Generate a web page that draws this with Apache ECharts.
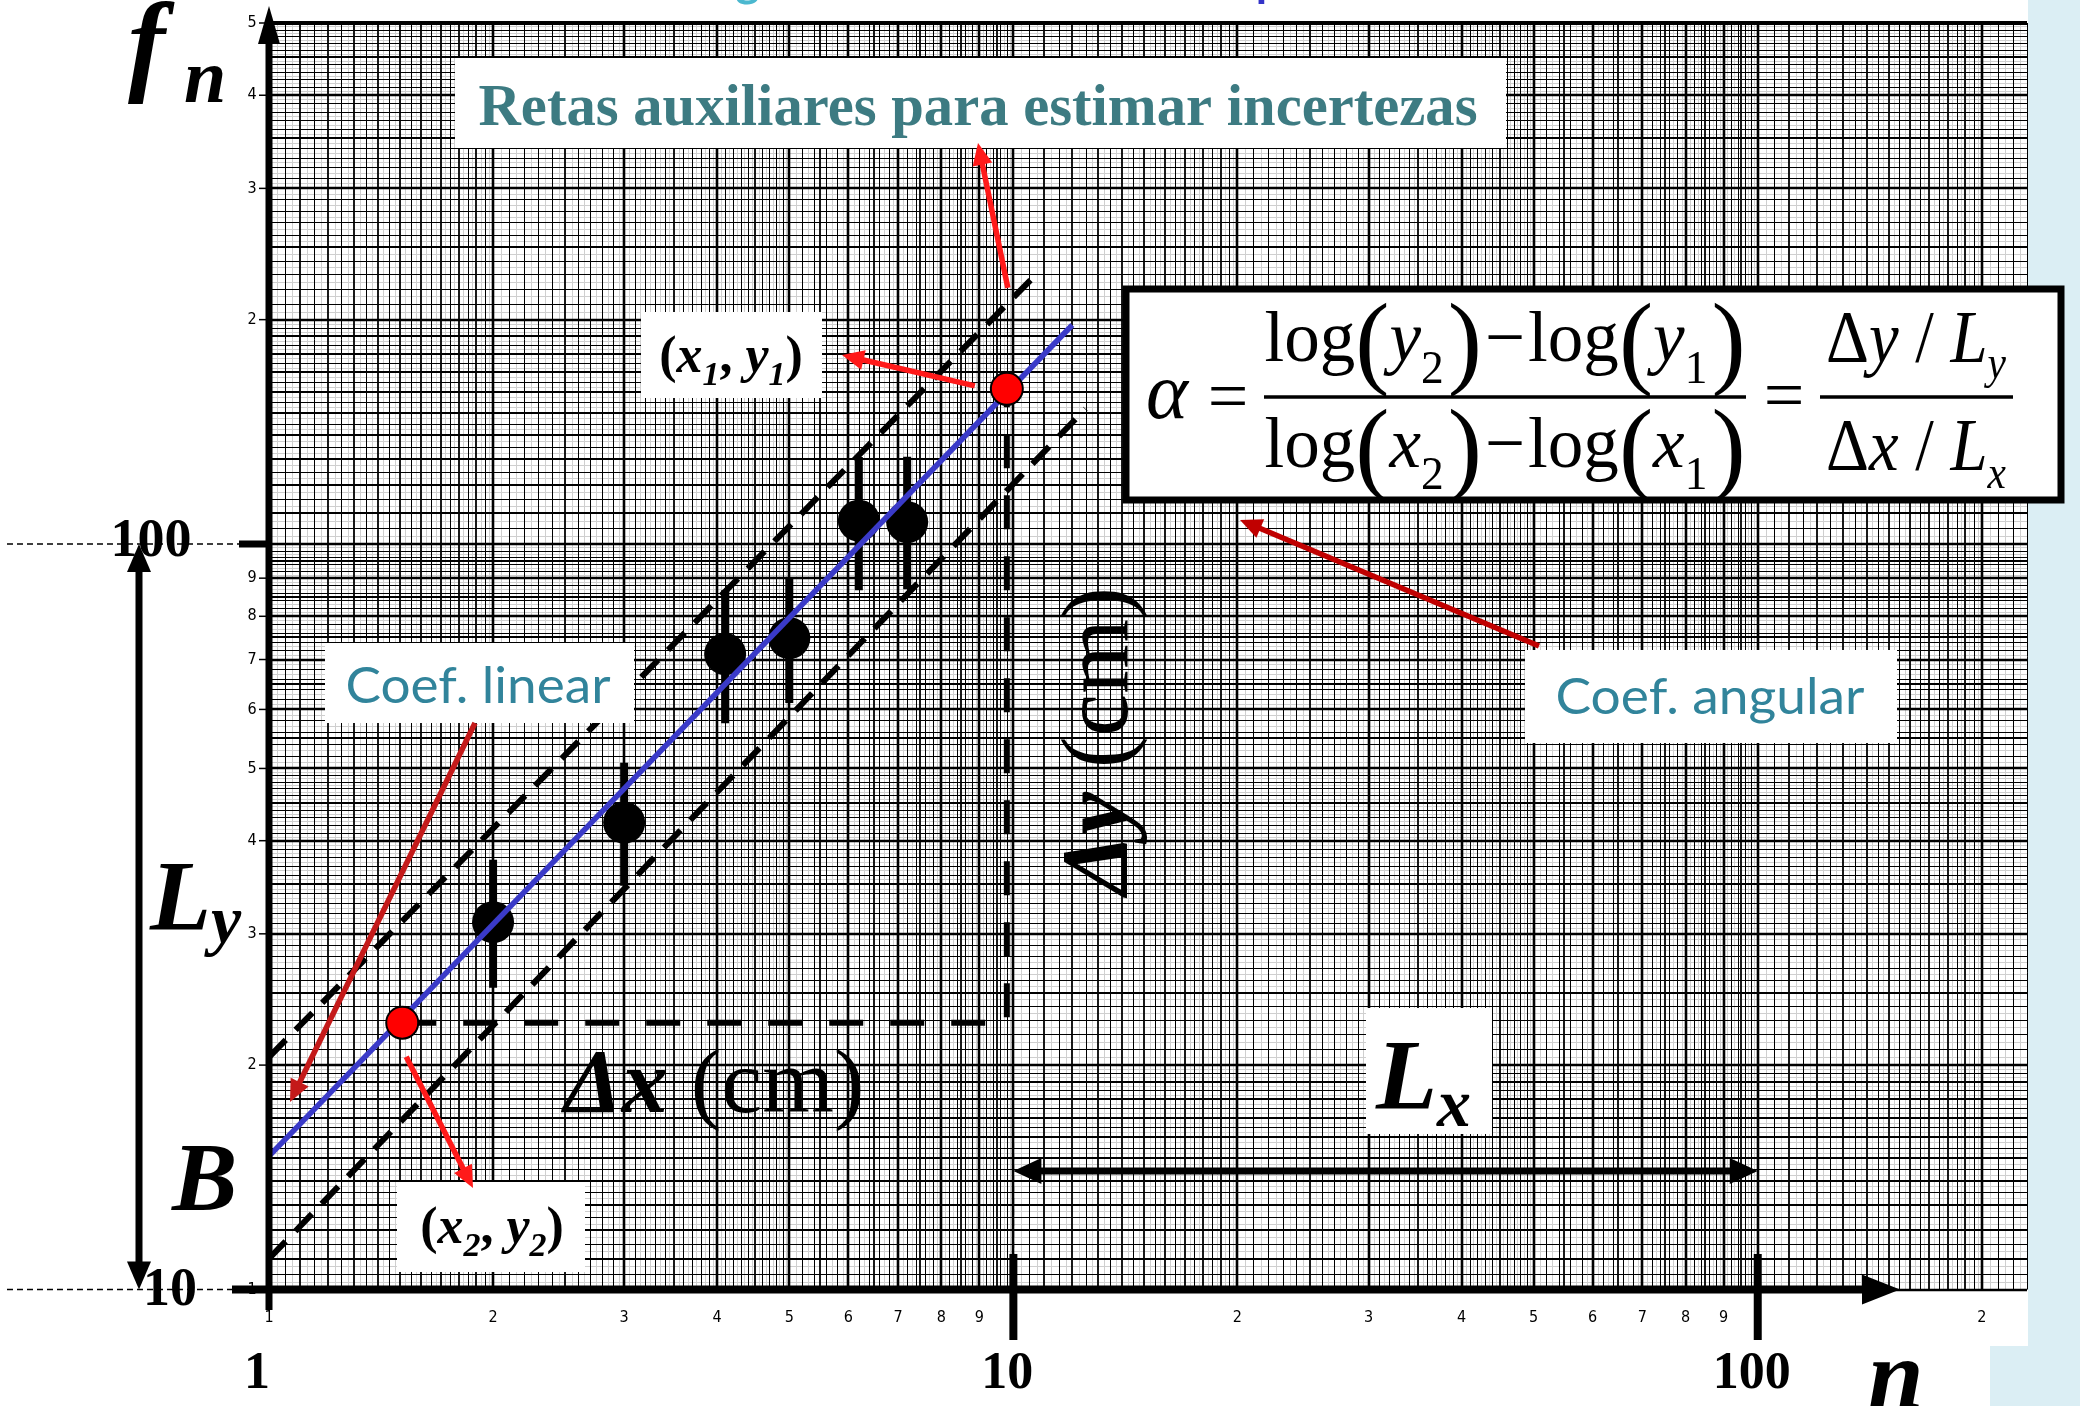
<!DOCTYPE html>
<html>
<head>
<meta charset="utf-8">
<script src="https://cdn.jsdelivr.net/npm/echarts@6/dist/echarts.min.js"></script>
<style>
  html, body { margin: 0; padding: 0; background: #ffffff; }
  #chart { width: 2080px; height: 1406px; }
</style>
</head>
<body>
<div id="chart"></div>
<script>
// ---- measured harmonics (n, f_n) with error bars ----
const nValues  = [2, 3, 4.1, 5, 6.2, 7.2];
const fnValues = [31.1, 42.3, 71.2, 74.8, 107.5, 107];
const fnLower  = [25.4, 34.8, 57.5, 61.2, 86.7, 87];
const fnUpper  = [37.7, 50.9, 86.7, 90.3, 130.8, 131];

// ---- best line and the two auxiliary lines (end points) ----
const fitN = [1, 12];      const fitF = [15.1, 196.7];
const auxUpN = [1, 10.8];  const auxUpF = [20.5, 231.6];
const auxLoN = [1, 12.5];  const auxLoF = [11.0, 151.9];

// ---- points read on the best line: (x1, y1) and (x2, y2) ----
const pickN = [9.8, 1.51];
const pickF = [161.5, 22.8];

// ---- printed numbers of the log paper ----
const xPaperTicks = [1, 2, 3, 4, 5, 6, 7, 8, 9, 20, 30, 40, 50, 60, 70, 80, 90, 200];
const xPaperText  = ['1', '2', '3', '4', '5', '6', '7', '8', '9', '2', '3', '4', '5', '6', '7', '8', '9', '2'];
const yPaperTicks = [10, 20, 30, 40, 50, 60, 70, 80, 90, 200, 300, 400, 500];
const yPaperText  = ['1', '2', '3', '4', '5', '6', '7', '8', '9', '2', '3', '4', '5'];

// ---- axis labels drawn below the paper ----
const xAxisMain = [1, 10, 100];
const xAxisMainText = ['1', '10', '100'];

const X_MIN = 1, X_MAX = 230, Y_MIN = 10, Y_MAX = 500;
const SERIF = '"Liberation Serif", "Times New Roman", serif';
const SANS = 'Lato, "Open Sans", sans-serif';
const NARROW = '"Liberation Sans Narrow", "DejaVu Sans Condensed", sans-serif';

// ---- log paper ruling (one decade pattern repeated) ----
function ruling(base, limit) {
  const out = [];
  const segs = [[1, 2, 40, 4, 2], [2, 5, 60, 10, 2], [5, 10, 50, 5, 2]];
  for (const [a, b, cnt, midE, thinE] of segs) {
    const step = (b - a) / cnt;
    for (let k = 0; k < cnt; k++) {
      const m = a + k * step;
      const v = +(m * base).toPrecision(6);
      if (v > limit) break;
      let w;
      if (Math.abs(m - Math.round(m)) < 1e-9) w = 3;
      else if (k % midE === 0) w = 2;
      else if (k % thinE === 0) w = 1;
      else w = 0;
      out.push([v, w]);
    }
  }
  return out;
}
const paperData = [];
[1, 10, 100].forEach(b => ruling(b, X_MAX).forEach(([v, w]) => paperData.push([v, Y_MIN, 0, w])));
[10, 100].forEach(b => ruling(b, Y_MAX).forEach(([v, w]) => paperData.push([X_MIN, v, 1, w])));
const paperStyle = [
  { stroke: '#cfcfcf', lineWidth: 1 },
  { stroke: '#000000', lineWidth: 1 },
  { stroke: '#000000', lineWidth: 1.8 },
  { stroke: '#000000', lineWidth: 2.6 }
];

const chart = echarts.init(document.getElementById('chart'), null, { renderer: 'canvas', width: 2080, height: 1406 });

const zip = (a, b) => a.map((v, i) => [v, b[i]]);

chart.setOption({
  animation: false,
  backgroundColor: '#ffffff',
  grid: { left: 269, top: 23, width: 1758, height: 1266.5, containLabel: false },
  xAxis: {
    type: 'log', logBase: 10, min: X_MIN, max: X_MAX,
    axisLine: { show: false }, axisTick: { show: false }, axisLabel: { show: false },
    splitLine: { show: false }, minorSplitLine: { show: false }
  },
  yAxis: {
    type: 'log', logBase: 10, min: Y_MIN, max: Y_MAX,
    axisLine: { show: false }, axisTick: { show: false }, axisLabel: { show: false },
    splitLine: { show: false }, minorSplitLine: { show: false }
  },
  series: [
    {
      name: 'paper', type: 'custom', silent: true, z: 1,
      data: paperData,
      encode: { x: 0, y: 1 },
      renderItem(params, api) {
        const o = api.value(2), w = api.value(3);
        let p1, p2;
        if (o === 0) {
          const v = api.value(0);
          p1 = api.coord([v, Y_MIN]); p2 = api.coord([v, Y_MAX]);
          const xx = Math.round(p1[0]) + (w >= 2 ? 0 : 0.5);
          p1[0] = p2[0] = xx;
        } else {
          const v = api.value(1);
          p1 = api.coord([X_MIN, v]); p2 = api.coord([X_MAX, v]);
          const yy = Math.round(p1[1]) + (w >= 2 ? 0 : 0.5);
          p1[1] = p2[1] = yy;
        }
        return { type: 'line', z2: w, shape: { x1: p1[0], y1: p1[1], x2: p2[0], y2: p2[1] }, style: paperStyle[w] };
      }
    },
    {
      name: 'error bars', type: 'custom', z: 3,
      data: nValues.map((n, i) => [n, fnLower[i], fnUpper[i]]),
      encode: { x: 0, y: [1, 2] },
      renderItem(params, api) {
        const a = api.coord([api.value(0), api.value(1)]);
        const b = api.coord([api.value(0), api.value(2)]);
        return { type: 'line', shape: { x1: a[0], y1: a[1], x2: b[0], y2: b[1] }, style: { stroke: '#000', lineWidth: 8 } };
      }
    },
    {
      name: 'aux upper', type: 'line', z: 4, showSymbol: false, symbol: 'none',
      data: zip(auxUpN, auxUpF),
      lineStyle: { color: '#000', width: 6, type: [24, 14], cap: 'butt' }
    },
    {
      name: 'aux lower', type: 'line', z: 4, showSymbol: false, symbol: 'none',
      data: zip(auxLoN, auxLoF),
      lineStyle: { color: '#000', width: 6, type: [24, 14], cap: 'butt' }
    },
    {
      name: 'delta guides', type: 'line', z: 4, showSymbol: false, symbol: 'none',
      data: [[pickN[1], pickF[1]], [pickN[0], pickF[1]], [pickN[0], pickF[0]]],
      lineStyle: { color: '#000', width: 6, type: [34, 27], cap: 'butt' }
    },
    {
      name: 'f_n', type: 'scatter', z: 5, symbol: 'circle', symbolSize: 42,
      data: zip(nValues, fnValues),
      itemStyle: { color: '#000', opacity: 1 }
    },
    {
      name: 'best line', type: 'line', z: 6, showSymbol: false, symbol: 'none',
      data: zip(fitN, fitF),
      lineStyle: { color: '#3a3ac8', width: 5.5 }
    },
    {
      name: 'picked points', type: 'scatter', z: 7, symbol: 'circle', symbolSize: 32,
      data: zip(pickN, pickF),
      itemStyle: { color: '#ff0000', borderColor: '#000', borderWidth: 2, opacity: 1 }
    }
  ]
});

// ---------- annotations (pixel positions taken from the axes) ----------
const X = v => chart.convertToPixel({ xAxisIndex: 0 }, v);
const Y = v => chart.convertToPixel({ yAxisIndex: 0 }, v);
const P = (n, f) => chart.convertToPixel({ xAxisIndex: 0, yAxisIndex: 0 }, [n, f]);

const mctx = document.createElement('canvas').getContext('2d');
function fontOf(p) {
  return (p.i ? 'italic ' : '') + (p.b ? 'bold ' : '') + p.s + 'px ' + (p.f || SERIF);
}
function measure(p) { mctx.font = fontOf(p); mctx.textBaseline = 'alphabetic'; return mctx.measureText(p.t).width; }
function midShift(p) {
  mctx.font = fontOf(p);
  mctx.textBaseline = 'alphabetic';
  const a = mctx.measureText('Hx').fontBoundingBoxAscent;
  mctx.textBaseline = 'middle';
  const m = mctx.measureText('Hx').fontBoundingBoxAscent;
  if (typeof a === 'number' && typeof m === 'number' && isFinite(a - m)) return a - m;
  return 0.34 * p.s;
}
// lays out pieces of text along a baseline
function run(pieces, x, base, opt) {
  opt = opt || {};
  const sx = opt.sx || 1;
  const ws = pieces.map(p => measure(p) * sx + (p.gap || 0));
  const total = ws.reduce((a, b) => a + b, 0);
  let cx = opt.align === 'center' ? x - total / 2 : (opt.align === 'right' ? x - total : x);
  const out = [];
  pieces.forEach((p, k) => {
    out.push({
      type: 'text', x: cx + (p.pre || 0), y: base + (p.dy || 0) - midShift(p), scaleX: sx, z: opt.z || 30,
      style: { text: p.t, font: fontOf(p), fill: p.c || opt.fill || '#000', align: 'left', verticalAlign: 'middle' }
    });
    cx += ws[k];
  });
  return out;
}
function runWidth(pieces) { return pieces.reduce((a, p) => a + measure(p) + (p.gap || 0), 0); }

function line(x1, y1, x2, y2, stroke, w, z, dash) {
  const st = { stroke, lineWidth: w };
  if (dash) st.lineDash = dash;
  return { type: 'line', z: z || 25, shape: { x1, y1, x2, y2 }, style: st };
}
function arrow(x1, y1, x2, y2, color, w, hl, hw, both, z) {
  const dx = x2 - x1, dy = y2 - y1, L = Math.hypot(dx, dy), ux = dx / L, uy = dy / L;
  const head = (tx, ty, ax, ay) => ({
    type: 'polygon', z: z || 26,
    shape: { points: [[tx, ty], [tx - ax * hl - ay * hw, ty - ay * hl + ax * hw], [tx - ax * hl + ay * hw, ty - ay * hl - ax * hw]] },
    style: { fill: color }
  });
  const sx = both ? x1 + ux * hl * 0.8 : x1, sy = both ? y1 + uy * hl * 0.8 : y1;
  const els = [line(sx, sy, x2 - ux * hl * 0.8, y2 - uy * hl * 0.8, color, w, z || 26), head(x2, y2, ux, uy)];
  if (both) els.push(head(x1, y1, -ux, -uy));
  return els;
}
function box(x1, y1, x2, y2, z) {
  return { type: 'rect', z: z || 20, shape: { x: x1, y: y1, width: x2 - x1, height: y2 - y1 }, style: { fill: '#ffffff' } };
}

const g = [];
const X1 = X(1), Y10 = Y(10), Y100 = Y(100);

// light frame on the right
g.push({ type: 'rect', z: 15, shape: { x: 2028, y: 0, width: 52, height: 1346 }, style: { fill: '#dbeef4' } });
g.push({ type: 'rect', z: 15, shape: { x: 1990, y: 1346, width: 90, height: 60 }, style: { fill: '#dbeef4' } });

// heading line above the paper (mostly outside the page)
g.push(...run([{ t: 'Gráfico log', s: 46, b: 1, f: SANS, c: '#4bb8cf' }], 538, -4, {}));
g.push(...run([{ t: '– modelo em potência', s: 46, b: 1, f: SANS, c: '#3434c8' }], 979, -4, {}));

// paper top edge
g.push(line(X1, Y(Y_MAX), X(X_MAX), Y(Y_MAX), '#000', 4, 16));

// main axes with arrows
g.push(line(X1, 40, X1, 1310, '#000', 7, 24));
g.push({ type: 'polygon', z: 24, shape: { points: [[X1, 6], [X1 - 11, 44], [X1 + 11, 44]] }, style: { fill: '#000' } });
g.push(line(232, Y10, 1866, Y10, '#000', 8, 24));
g.push({ type: 'polygon', z: 24, shape: { points: [[1900, Y10], [1862, Y10 - 15], [1862, Y10 + 15]] }, style: { fill: '#000' } });

// thick marks at the decades
g.push(line(X(10), 1254, X(10), 1340, '#000', 8, 24));
g.push(line(X(100), 1254, X(100), 1340, '#000', 8, 24));
g.push(line(239, Y100, X1 + 3, Y100, '#000', 7, 24));

// thin dashed guides
g.push(line(7, Y100, 266, Y100, '#000', 1.5, 24, [6, 4]));
g.push(line(7, Y10, 232, Y10, '#000', 1.5, 24, [6, 4]));
g.push(line(X(10), 1110, X(10), Y10, '#000', 1.5, 24, [6, 5]));
g.push(line(X(100), 1110, X(100), Y10, '#000', 1.5, 24, [6, 5]));

// small printed numbers of the paper
xPaperTicks.forEach((v, i) => {
  g.push({ type: 'text', z: 22, x: X(v), y: 1318, style: { text: xPaperText[i], font: '16px ' + NARROW, fill: '#000', align: 'center', verticalAlign: 'middle' } });
});
yPaperTicks.forEach((v, i) => {
  g.push({ type: 'text', z: 22, x: 252, y: Y(v), style: { text: yPaperText[i], font: '16px ' + NARROW, fill: '#000', align: 'center', verticalAlign: 'middle' } });
  g.push(line(X1 - 10, Y(v), X1, Y(v), '#000', 1.5, 22));
});

// L_y and L_x double arrows
g.push(...arrow(139, Y100, 139, Y10, '#000', 7, 28, 12, true, 24));
g.push(...arrow(X(10), 1171, X(100), 1171, '#000', 7, 28, 13, true, 24));

// axis numbers
g.push(...run([{ t: '100', s: 54, b: 1 }], 151, 556, { align: 'center' }));
g.push(...run([{ t: '10', s: 54, b: 1 }], 170, 1305, { align: 'center' }));
xAxisMain.forEach((v, i) => {
  g.push(...run([{ t: xAxisMainText[i], s: 52, b: 1 }], X(v) + (i === 0 ? -12 : -6), 1388, { align: 'center' }));
});

// axis names
g.push(...run([{ t: 'f', s: 112, b: 1, i: 1 }], 128, 80, {}));
g.push(...run([{ t: 'n', s: 76, b: 1, i: 1 }], 184, 102, {}));
g.push(...run([{ t: 'n', s: 100, b: 1, i: 1 }], 1868, 1408, {}));

// B and L_y at the left
g.push(...run([{ t: 'L', s: 100, b: 1, i: 1 }, { t: 'y', s: 68, b: 1, i: 1, dy: 14 }], 150, 929, {}));
g.push(...run([{ t: 'B', s: 98, b: 1, i: 1 }], 172, 1210, {}));

// L_x label
g.push(box(1366, 1008, 1492, 1134));
g.push(...run([{ t: 'L', s: 100, b: 1, i: 1 }, { t: 'x', s: 68, b: 1, i: 1, dy: 18 }], 1376, 1108, {}));

// Δx (cm) and Δy (cm)
g.push(...run([{ t: 'Δ', s: 92, b: 1, i: 1 }, { t: 'x', s: 92, b: 1, i: 1 }, { t: ' (cm)', s: 92 }], 564, 1112, {}));
g.push({
  type: 'group', x: 1127, y: 895, rotation: Math.PI / 2, z: 30,
  children: run([{ t: 'Δ', s: 96, b: 1, i: 1 }, { t: 'y', s: 96, b: 1, i: 1 }, { t: ' (cm)', s: 96 }], 0, 0, {})
});

// heading of the auxiliary lines
g.push(box(455, 58, 1506, 148));
{
  const p = { t: 'Retas auxiliares para estimar incertezas', s: 60, b: 1, c: '#3d7b82' };
  const sx = 999 / measure(p);
  g.push(...run([p], 978, 125, { align: 'center', sx }));
}

// (x1, y1) and (x2, y2) labels
function pairLabel(a, b, sub, cx, base) {
  return run([
    { t: '(', s: 52, b: 1 },
    { t: a, s: 52, b: 1, i: 1 },
    { t: sub, s: 34, b: 1, i: 1, dy: 13 },
    { t: ', ', s: 52, b: 1 },
    { t: b, s: 52, b: 1, i: 1 },
    { t: sub, s: 34, b: 1, i: 1, dy: 13 },
    { t: ')', s: 52, b: 1 }
  ], cx, base, { align: 'center' });
}
g.push(box(641, 312, 822, 398));
g.push(...pairLabel('x', 'y', '1', 731, 372));
g.push(box(397, 1182, 585, 1272));
g.push(...pairLabel('x', 'y', '2', 492, 1243));

// "Coef." labels
g.push(box(325, 643, 634, 723));
{
  const p = { t: 'Coef. linear', s: 50, f: SANS, c: '#31849b' };
  g.push(...run([p], 478, 703, { align: 'center', sx: 265 / measure(p) }));
}
g.push(box(1525, 650, 1897, 743));
{
  const p = { t: 'Coef. angular', s: 50, f: SANS, c: '#31849b' };
  g.push(...run([p], 1710, 714, { align: 'center', sx: 309 / measure(p) }));
}

// formula box
g.push({ type: 'rect', z: 20, shape: { x: 1126, y: 289, width: 935, height: 211 }, style: { fill: '#fff', stroke: '#000', lineWidth: 7 } });
function logTerm(v, sub) {
  return [
    { t: 'log', s: 72 },
    { t: '(', s: 104, dy: 14 },
    { t: v, s: 72, i: 1 },
    { t: sub, s: 46, dy: 22 },
    { t: ')', s: 104, dy: 14, pre: 4, gap: 4 }
  ];
}
const numer = [...logTerm('y', '2'), { t: '−', s: 72, gap: 6, pre: 3 }, ...logTerm('y', '1')];
const denom = [...logTerm('x', '2'), { t: '−', s: 72, gap: 6, pre: 3 }, ...logTerm('x', '1')];
const fx = 481 / runWidth(numer);
g.push(...run([{ t: 'α', s: 80, i: 1 }], 1167, 418, { align: 'center' }));
g.push(...run([{ t: '=', s: 72 }], 1228, 420, { align: 'center' }));
g.push(...run(numer, 1505, 361, { align: 'center', sx: fx }));
g.push(line(1264, 397, 1746, 397, '#000', 3.5, 30));
g.push(...run(denom, 1505, 467, { align: 'center', sx: fx }));
g.push(...run([{ t: '=', s: 72 }], 1784, 419, { align: 'center' }));
const rNum = [{ t: 'Δ', s: 74 }, { t: 'y', s: 74, i: 1 }, { t: ' / ', s: 74 }, { t: 'L', s: 74, i: 1 }, { t: 'y', s: 46, i: 1, dy: 16 }];
const rDen = [{ t: 'Δ', s: 74 }, { t: 'x', s: 74, i: 1 }, { t: ' / ', s: 74 }, { t: 'L', s: 74, i: 1 }, { t: 'x', s: 46, i: 1, dy: 18 }];
const fr = 180 / runWidth(rNum);
g.push(...run(rNum, 1916, 362, { align: 'center', sx: fr }));
g.push(line(1820, 397, 2013, 397, '#000', 3.5, 30));
g.push(...run(rDen, 1916, 470, { align: 'center', sx: fr }));

// red pointers
const p1 = P(pickN[0], pickF[0]);
const p2 = P(pickN[1], pickF[1]);
g.push(...arrow(p1[0] - 32, p1[1] - 3, 842, 355, '#ff1a1a', 5.5, 22, 10, false, 26));
g.push(...arrow(p1[0] + 1, p1[1] - 101, 978, 143, '#ff1a1a', 5.5, 22, 10, false, 26));
g.push(...arrow(1539, 646, 1240, 520, '#c00000', 5.5, 22, 10, false, 26));
g.push(...arrow(475, 723, 290, 1102, '#c41a1a', 5.5, 22, 10, false, 26));
g.push(...arrow(p2[0] + 4, p2[1] + 34, 473, 1188, '#ff1a1a', 5.5, 22, 10, false, 26));

chart.setOption({ graphic: { elements: g } });
</script>
</body>
</html>
